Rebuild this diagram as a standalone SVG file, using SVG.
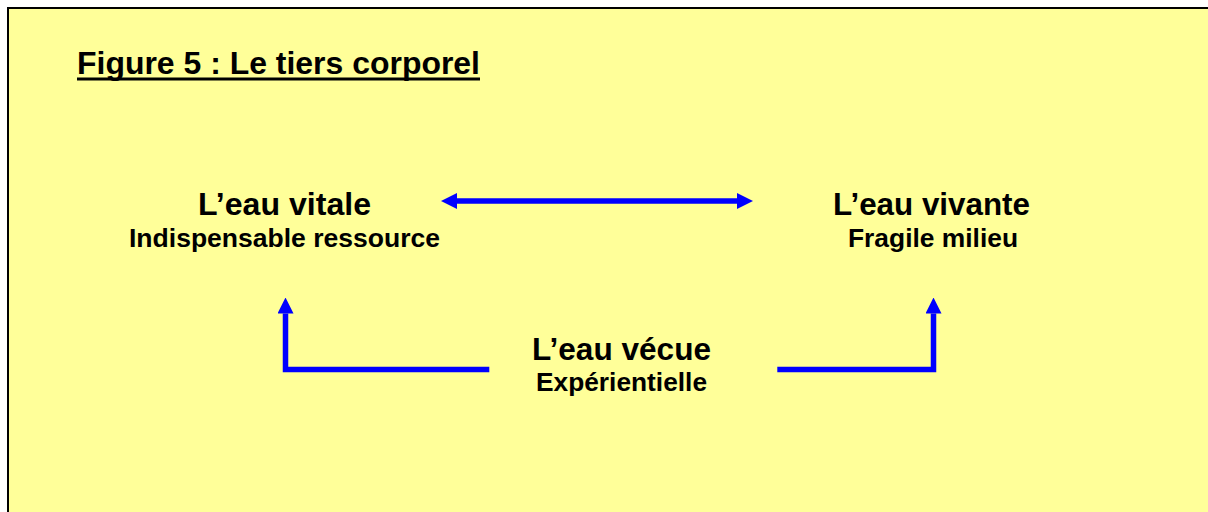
<svg xmlns="http://www.w3.org/2000/svg" width="1208" height="512" viewBox="0 0 1208 512">
  <style>
    text { font-family: "Liberation Sans", Arial, sans-serif; font-weight: bold; fill: #000; }
    .title { font-size: 32px; }
    .main { font-size: 31.5px; }
    .sub { font-size: 26.5px; }
    .conn { fill: none; stroke: #0000FF; stroke-width: 5.5; stroke-linejoin: miter; }
  </style>
  <defs>
    <marker id="head" viewBox="0 0 16 16" refX="0" refY="8" markerWidth="16" markerHeight="16" markerUnits="userSpaceOnUse" orient="auto-start-reverse">
      <path d="M0,0 L16,8 L0,16 Z" fill="#0000FF"/>
    </marker>
  </defs>
  <rect x="0" y="0" width="1208" height="512" fill="#FFFFFF"/>
  <rect x="8" y="8" width="1230" height="530" fill="#FFFF99" stroke="#000" stroke-width="2"/>

  <g id="title">
    <text class="title" x="77" y="74" textLength="403" lengthAdjust="spacingAndGlyphs">Figure 5 : Le tiers corporel</text>
    <rect x="77" y="77.5" width="403" height="3" fill="#000"/>
  </g>

  <g id="node-vitale">
    <text class="main" x="198" y="215" textLength="173" lengthAdjust="spacingAndGlyphs">L’eau vitale</text>
    <text class="sub" x="129" y="247" textLength="311" lengthAdjust="spacingAndGlyphs">Indispensable ressource</text>
  </g>

  <g id="node-vivante">
    <text class="main" x="833" y="215" textLength="197" lengthAdjust="spacingAndGlyphs">L’eau vivante</text>
    <text class="sub" x="848" y="247" textLength="170" lengthAdjust="spacingAndGlyphs">Fragile milieu</text>
  </g>

  <g id="node-vecue">
    <text class="main" x="532" y="360" textLength="179" lengthAdjust="spacingAndGlyphs">L’eau vécue</text>
    <text class="sub" x="536" y="391" textLength="171" lengthAdjust="spacingAndGlyphs">Expérientielle</text>
  </g>

  <g id="connectors">
    <path class="conn" d="M457,201 H737" marker-start="url(#head)" marker-end="url(#head)"/>
    <path class="conn" d="M489.3,369.5 H285.5 V313.5" marker-end="url(#head)"/>
    <path class="conn" d="M777.3,369.5 H933.5 V313.5" marker-end="url(#head)"/>
  </g>
</svg>
